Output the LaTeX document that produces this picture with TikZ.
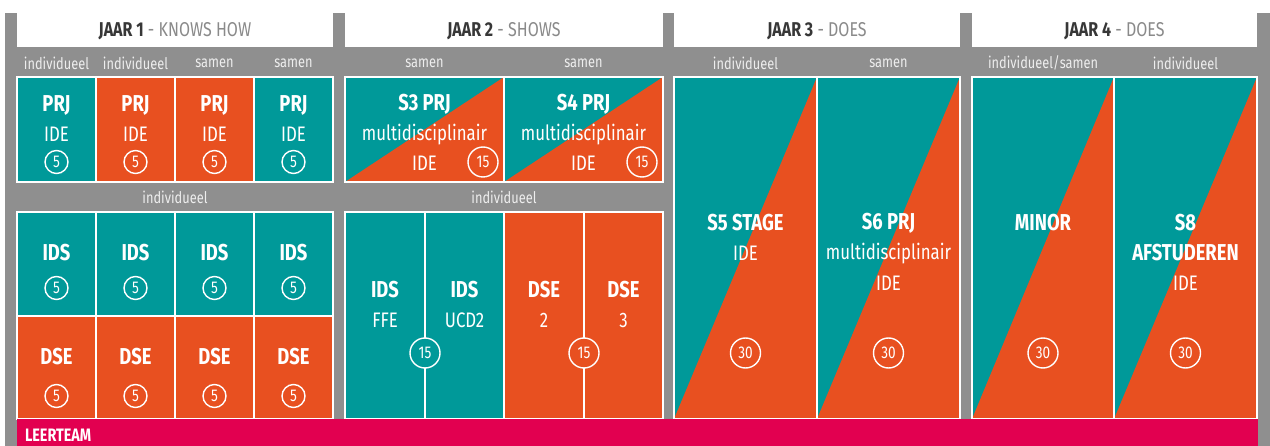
\documentclass[tikz,border=0pt]{standalone}
\usepackage{fontspec}
\setmainfont{Fira Sans}[FakeStretch=0.8]
\usetikzlibrary{positioning,calc}
\definecolor{ideteal}{RGB}{0,153,153}
\definecolor{dseorange}{RGB}{232,80,32}
\definecolor{leerpink}{RGB}{226,0,80}
\definecolor{panelgray}{RGB}{143,143,143}
\definecolor{jaardark}{RGB}{55,55,55}
\definecolor{jaarlight}{RGB}{138,138,138}
\definecolor{vormgray}{RGB}{238,238,238}

\tikzset{
	vak/.style={draw=white,line width=1.2pt,anchor=north west},
	halfvak/.style={vak,fill=ideteal,path picture={
		\fill[dseorange] (path picture bounding box.south west) -- (path picture bounding box.north east) |- cycle;}},
	code/.style={font=\bfseries\fontsize{23}{23}\selectfont},
	sub/.style={font=\fontsize{21}{21}\selectfont},
	ec/.style={circle,draw=white,line width=1.4pt,minimum size=#1,font=\fontsize{17}{17}\selectfont},
	ec/.default=23pt,
	werkvorm/.style={text=vormgray,font=\fontsize{16}{16}\selectfont},
	jaar/.style={font=\fontsize{20}{20}\selectfont}
}

\begin{document}
\begin{tikzpicture}[x=1pt,y=-1pt,
		every node/.append style={inner sep=0pt,outer sep=0pt,text=white}
	]
	\useasboundingbox (0,0) rectangle (1270,446);
	\fill[panelgray] (5,13) rectangle (1270,446);

	% headers
	\foreach \x/\w/\n/\wat in {17/316/1/KNOWS HOW,345/318/2/SHOWS,674/286/3/DOES,972/285/4/DOES} {
		\node[fill=white,anchor=north west,minimum width=\w pt,minimum height=34pt] (kop\n) at (\x,13) {};
		\node[jaar] (jaar\n) at ($(kop\n.center)+(0,1)$) {\textcolor{jaardark}{\bfseries JAAR \n} \textcolor{jaarlight}{- \wat}};
	}

	% jaar 1
	\foreach \i/\kl/\vorm in {0/ideteal/individueel,1/dseorange/individueel,2/dseorange/samen,3/ideteal/samen} {
		\node[vak,fill=\kl,minimum width=79pt,minimum height=105pt] (prj\i) at (17+79*\i,77) {};
		\node[werkvorm] (vorm\i) at ($(prj\i.north)+(0,-14)$) {\vorm};
		\node[code] (prj\i-t) at ($(prj\i.north)+(0,28)$) {PRJ};
		\node[sub] (prj\i-s) at ($(prj\i.north)+(0,57)$) {IDE};
		\node[ec] (prj\i-ec) at ($(prj\i.north)+(0,85)$) {5};
		\node[vak,fill=ideteal,minimum width=79pt,minimum height=104pt] (ids\i) at (17+79*\i,212) {};
		\node[code] (ids\i-t) at ($(ids\i.north)+(0,41)$) {IDS};
		\node[ec] (ids\i-ec) at ($(ids\i.north)+(0,76)$) {5};
		\node[vak,fill=dseorange,minimum width=79pt,minimum height=103pt] (dse\i) at (17+79*\i,316) {};
		\node[code] (dse\i-t) at ($(dse\i.north)+(0,41)$) {DSE};
		\node[ec] (dse\i-ec) at ($(dse\i.north)+(0,80)$) {5};
	}
	\node[werkvorm] (ind1) at (175,197) {individueel};

	% jaar 2
	\foreach \s/\x in {3/345,4/504} {
		\node[halfvak,minimum width=159pt,minimum height=105pt] (s\s) at (\x,77) {};
		\node[werkvorm] (s\s-vorm) at ($(s\s.north)+(0,-14)$) {samen};
		\node[code] (s\s-t) at ($(s\s.north)+(0,27)$) {S\s{} PRJ};
		\node[sub] (s\s-m) at ($(s\s.north)+(0,58)$) {multidisciplinair};
		\node[sub] (s\s-s) at ($(s\s.north)+(0,86)$) {IDE};
		\node[ec=30pt] (s\s-ec) at ($(s\s.north east)+(-21,85)$) {15};
	}
	\node[werkvorm] (ind2) at (504,197) {individueel};
	\node[vak,fill=ideteal,minimum width=80pt,minimum height=207pt] (ffe) at (345,212) {};
	\node[vak,fill=ideteal,minimum width=79pt,minimum height=207pt] (ucd) at (425,212) {};
	\node[vak,fill=dseorange,minimum width=80pt,minimum height=207pt] (dsetwee) at (504,212) {};
	\node[vak,fill=dseorange,minimum width=79pt,minimum height=207pt] (dsedrie) at (584,212) {};
	\foreach \v/\t/\s in {ffe/IDS/FFE,ucd/IDS/UCD2,dsetwee/DSE/2,dsedrie/DSE/3} {
		\node[code] (\v-t) at ($(\v.north)+(0,78)$) {\t};
		\node[sub] (\v-s) at ($(\v.north)+(0,108)$) {\s};
	}
	\node[ec=30pt,fill=ideteal] (ids-ec) at ($(ffe.south east)+(0,-66)$) {15};
	\node[ec=30pt,fill=dseorange] (dse-ec) at ($(dsetwee.south east)+(0,-66)$) {15};

	% jaar 3 en 4
	\node[halfvak,minimum width=143pt,minimum height=342pt] (s5) at (674,77) {};
	\node[halfvak,minimum width=143pt,minimum height=342pt] (s6) at (817,77) {};
	\node[halfvak,minimum width=142pt,minimum height=342pt] (minor) at (972,77) {};
	\node[halfvak,minimum width=143pt,minimum height=342pt] (s8) at (1114,77) {};
	\foreach \v/\vorm in {s5/individueel,s6/samen,minor/individueel\slash samen,s8/individueel} {
		\node[werkvorm] (\v-vorm) at ($(\v.north)+(0,-14)$) {\vorm};
		\node[ec=30pt] (\v-ec) at ($(\v.north)+(0,276)$) {30};
	}
	\node[code] (s5-t) at ($(s5.north)+(0,146)$) {S5 STAGE};
	\node[sub] (s5-s) at ($(s5.north)+(0,176)$) {IDE};
	\node[code] (s6-t) at ($(s6.north)+(0,146)$) {S6 PRJ};
	\node[sub] (s6-m) at ($(s6.north)+(0,177)$) {multidisciplinair};
	\node[sub] (s6-s) at ($(s6.north)+(0,206)$) {IDE};
	\node[code] (minor-t) at ($(minor.north)+(0,146)$) {MINOR};
	\node[code] (s8-t) at ($(s8.north)+(0,146)$) {S8};
	\node[code] (s8-a) at ($(s8.north)+(0,176)$) {AFSTUDEREN};
	\node[sub] (s8-s) at ($(s8.north)+(0,206)$) {IDE};

	% leerteam
	\node[fill=leerpink,anchor=north west,minimum width=1241pt,minimum height=27pt] (leerteam) at (17,419) {};
	\node[code,font=\bfseries\fontsize{18}{18}\selectfont,anchor=base west] (leerteam-t) at (25,442) {LEERTEAM};
\end{tikzpicture}
\end{document}
